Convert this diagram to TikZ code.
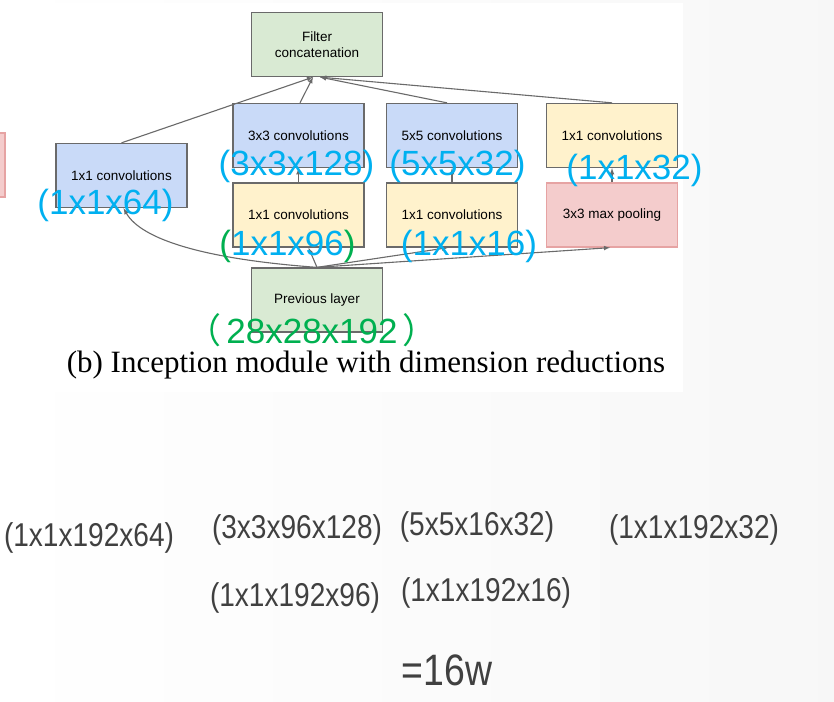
\documentclass[tikz,border=0pt]{standalone}
\usepackage{fontspec}
\setmainfont{Liberation Sans}
\newfontfamily\capfont{Liberation Serif}
\newfontfamily\narrowfont[FakeStretch=0.85]{Liberation Sans}
\newfontfamily\cjkfont{Noto Sans CJK SC}
\usepackage{tikz}
\definecolor{boxblue}{HTML}{C9DAF8}
\definecolor{boxyellow}{HTML}{FFF2CC}
\definecolor{boxgreen}{HTML}{D9EAD3}
\definecolor{boxpink}{HTML}{F4CCCC}
\definecolor{boxred}{HTML}{E6A3A3}
\definecolor{linegray}{HTML}{6A6A6A}
\definecolor{dimblue}{HTML}{00B0F0}
\definecolor{dimgreen}{HTML}{00B050}
\definecolor{textgray}{HTML}{404040}
\usetikzlibrary{arrows}

\begin{document}
\begin{tikzpicture}[x=1pt, y=-1pt,
        >=latex,   %Pfeilspitzen
        layer/.style={draw=linegray, line width=1.3pt, inner sep=0pt, minimum width=131pt, minimum height=64pt,
            align=center, font=\fontsize{13.5}{16.5}\selectfont},
        conn/.style={->, draw=linegray, line width=1.1pt},
        dim/.style={text=dimblue, inner sep=0pt, font=\fontsize{35}{40}\selectfont},
        weight/.style={text=textgray, inner sep=0pt, font=\narrowfont\fontsize{33}{38}\selectfont}]
        %Hintergrund
        \useasboundingbox (0,0) rectangle (834,701);
        \shade[left color=white, right color=black!3] (0,0) rectangle (834,701);
        \fill[white] (0,3) rectangle (683,392);
        \fill[boxpink, draw=boxred, line width=1.3pt] (-10,133) rectangle (5,197);
        % Schichten
        \node[layer, fill=boxgreen] (concat) at (317,44.5) {Filter\\concatenation};
        \node[layer, fill=boxblue] (conva) at (121.5,175.5) {1x1 convolutions};
        \node[layer, fill=boxblue] (convb) at (298.5,135.5) {3x3 convolutions};
        \node[layer, fill=boxyellow] (redb) at (298.5,215) {1x1 convolutions};
        \node[layer, fill=boxblue] (convc) at (452,135.5) {5x5 convolutions};
        \node[layer, fill=boxyellow] (redc) at (452,215) {1x1 convolutions};
        \node[layer, fill=boxyellow] (projd) at (612,135.5) {1x1 convolutions};
        \node[layer, fill=boxpink, draw=boxred] (poold) at (612,215) {3x3 max pooling};
        \node[layer, fill=boxgreen] (prev) at (317,300) {Previous layer};
        % Verbindungen
        \draw[conn] (conva.north) -- ([xshift=-4pt]concat.south);
        \draw[conn] ([xshift=1.5pt]convb.north) -- ([xshift=-4pt]concat.south);
        \draw[conn] ([xshift=-5pt]convc.north) -- ([xshift=3pt]concat.south);
        \draw[conn] (projd.north) -- ([xshift=3pt]concat.south);
        \draw[conn] (redb.north) -- (convb.south);
        \draw[conn] (redc.north) -- (convc.south);
        \draw[conn] (poold.north) -- (projd.north |- projd.south);
        \draw[conn] (prev.north) .. controls +(-110,-8) and +(18,32) .. ([xshift=2pt]conva.south);
        \draw[conn] (prev.north) -- ([xshift=10pt]redb.south);
        \draw[conn] (prev.north) -- ([xshift=-4pt]redc.south);
        \draw[conn] (prev.north) -- ([xshift=-2pt]poold.south);
        % Dimensionen
        \node[dim] (dima) at (105.5,205) {(1x1x64)};
        \node[dim] (dimb) at (296.5,166) {(3x3x128)};
        \node[dim] (dimc) at (457.5,166) {(5x5x32)};
        \node[dim] (dimd) at (634.5,170) {(1x1x32)};
        \node[dim] (dimrb) at (287.5,246) {\textcolor{dimgreen}{(}1x1x96\textcolor{dimgreen}{)}};
        \node[dim] (dimrc) at (469,246) {(1x1x16)};
        \node[dim, text=dimgreen] (dimprev) at (312,330) {{\cjkfont ^^^^ff08}\kern5pt 28x28x192\kern5pt{\cjkfont ^^^^ff09}};
        % Beschriftung
        \node[inner sep=0pt, font=\capfont\fontsize{31}{36}\selectfont] (caption) at (366,365) {(b) Inception module with dimension reductions};
        % Gewichte
        \node[weight] (wa) at (89,538) {(1x1x192x64)};
        \node[weight] (wb) at (297,530) {(3x3x96x128)};
        \node[weight] (wc) at (477,527) {(5x5x16x32)};
        \node[weight] (wd) at (694,530) {(1x1x192x32)};
        \node[weight] (wrb) at (295,598) {(1x1x192x96)};
        \node[weight] (wrc) at (486,593) {(1x1x192x16)};
        \node[weight, font=\narrowfont\fontsize{44}{50}\selectfont] (total) at (447,670) {=16w};
    \end{tikzpicture}
\end{document}
